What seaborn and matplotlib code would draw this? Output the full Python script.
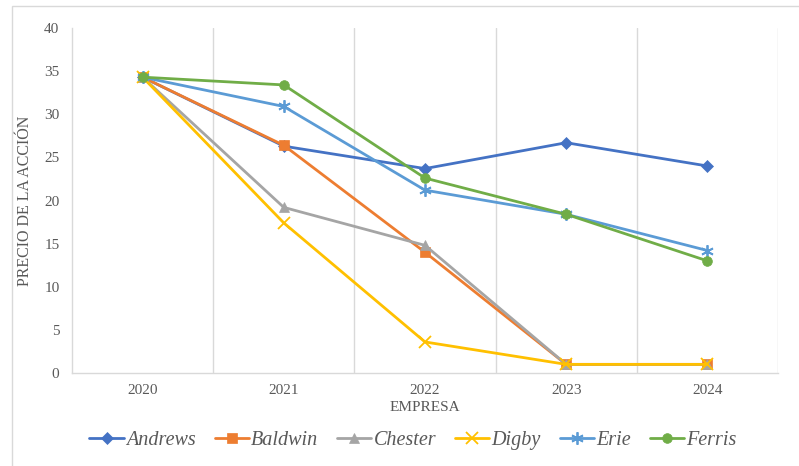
import matplotlib
matplotlib.use("Agg")
import matplotlib.pyplot as plt
import seaborn as sns
import pandas as pd
from matplotlib.patches import Rectangle

years = ["2020", "2021", "2022", "2023", "2024"]
andrews = [34.3, 26.3, 23.7, 26.7, 24.0]
baldwin = [34.3, 26.4, 14.0, 1.0, 1.0]
chester = [34.3, 19.2, 14.8, 1.0, 1.0]
digby = [34.3, 17.4, 3.6, 1.0, 1.0]
erie = [34.3, 30.9, 21.2, 18.4, 14.2]
ferris = [34.3, 33.4, 22.6, 18.4, 13.0]
companies = ["Andrews", "Baldwin", "Chester", "Digby", "Erie", "Ferris"]
series = [andrews, baldwin, chester, digby, erie, ferris]
yticks = [0, 5, 10, 15, 20, 25, 30, 35, 40]

colors = ["#4472C4", "#ED7D31", "#A5A5A5", "#FFC000", "#5B9BD5", "#70AD47"]
markers = ["D", "s", "^", "x", (6, 2, 0), "o"]
msizes = [6, 7, 7, 8, 9, 7]

rows = []
for c, vals in zip(companies, series):
    for i, v in enumerate(vals):
        rows.append({"Empresa": c, "pos": i, "Precio": v})
df = pd.DataFrame(rows)

sns.set_theme(style="white")
plt.rcParams["font.family"] = ["Liberation Serif", "DejaVu Serif"]

fig = plt.figure(figsize=(7.99, 4.66), dpi=100)
ax = fig.add_axes([72 / 799, 1 - 373 / 466, 706 / 799, 345 / 466])

for c, col, m, ms in zip(companies, colors, markers, msizes):
    sub = df[df["Empresa"] == c]
    sns.lineplot(data=sub, x="pos", y="Precio", ax=ax, color=col, marker=m,
                 markersize=ms, linewidth=2.0, label=c,
                 markeredgecolor=col, markeredgewidth=1.3 if m in ("x", (6, 2, 0)) else 0.5)

ax.set_xlim(-0.5, 4.5)
ax.set_ylim(0, 40)
ax.set_yticks(yticks)
ax.set_xticks(range(len(years)))
ax.set_xticklabels(years)
for x in [0.5, 1.5, 2.5, 3.5, 4.5]:
    ax.axvline(x, color="#D9D9D9", linewidth=1.0, zorder=0)
for s in ["top", "right"]:
    ax.spines[s].set_visible(False)
for s in ["left", "bottom"]:
    ax.spines[s].set_color("#D9D9D9")
    ax.spines[s].set_linewidth(1.0)
ax.tick_params(axis="both", length=0, labelsize=11, colors="#595959")
ax.tick_params(axis="x", pad=8)
ax.tick_params(axis="y", pad=9)
ax.set_xlabel("EMPRESA", fontsize=11, color="#595959", labelpad=3)
ax.set_ylabel("PRECIO DE LA ACCIÓN", fontsize=11.5, color="#595959", labelpad=8)

leg = ax.legend(loc="center", bbox_to_anchor=(413 / 799, 1 - 440 / 466),
                bbox_transform=fig.transFigure, ncol=6, frameon=False,
                prop={"size": 14.5}, handlelength=1.7, handletextpad=0.1,
                columnspacing=0.95)
for t in leg.get_texts():
    t.set_color("#595959")
    t.set_family("Liberation Serif")
    t.set_style("italic")
    t.set_size(14.5)

fig.patches.append(Rectangle((12 / 799, -0.05), 1.0, 1 - 6 / 466 + 0.05,
                             transform=fig.transFigure, fill=False,
                             edgecolor="#D9D9D9", linewidth=1.0))

fig.savefig("out.png", dpi=100)
